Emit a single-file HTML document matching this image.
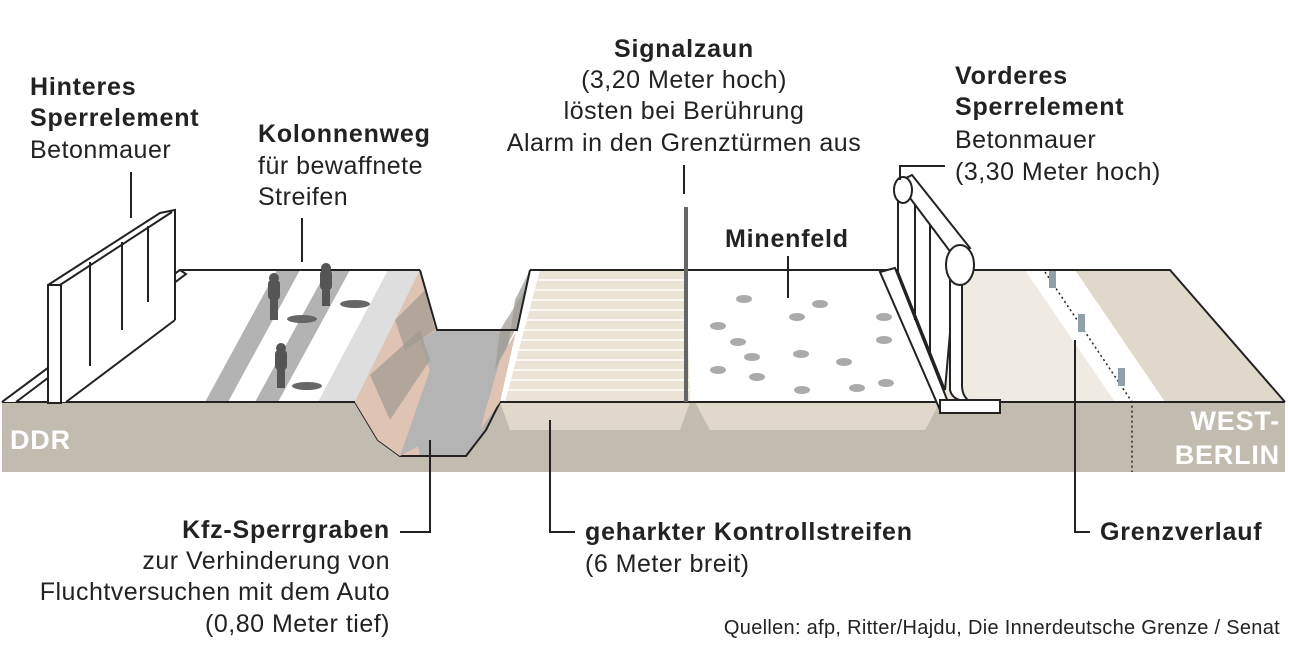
<!DOCTYPE html>
<html><head><meta charset="utf-8"><style>
html,body{margin:0;padding:0;background:#fff}
svg{display:block}
text{font-family:"Liberation Sans","DejaVu Sans",sans-serif;fill:#222;font-size:25px;letter-spacing:0.5px}
.b{font-weight:bold;font-size:25px;letter-spacing:0.8px}
</style></head><body>
<svg width="1292" height="656" viewBox="0 0 1292 656" xmlns="http://www.w3.org/2000/svg">
<rect x="2" y="402" width="1283" height="70" fill="#c2bcb0"/>
<path d="M355,402 L378,440 L400,456 L466,456 L486,430 L500,402 Z" fill="#b4b4b4"/>
<path d="M355,402 L378,440 L400,456 L420,456 L410,402 Z" fill="#dfc3b3"/>
<path d="M355,402 L378,440 L400,456 L466,456 L486,430 L500,402" fill="none" stroke="#222" stroke-width="2"/>
<path d="M500,402 L690,402 L680,430 L510,430 Z" fill="#e0d9cb"/>
<path d="M695,402 L940,402 L925,430 L710,430 Z" fill="#e0d9cb"/>
<path d="M2,402 L180,270 L420,270 L437,330 L517,330 L530,270 L1170,270 L1285,402 Z" fill="#fff"/>
<path d="M205,402 L277,270 L300,270 L228,402 Z" fill="#b3b3b3"/>
<path d="M255,402 L327,270 L350,270 L278,402 Z" fill="#b3b3b3"/>
<path d="M318,402 L388,270 L420,270 L400,330 L355,402 Z" fill="#dedede"/>
<path d="M420,270 L437,330 L517,330 L530,270 L515,300 L500,402 L400,456 L378,440 L355,402 Z" fill="#b4b4b4"/>
<path d="M420,270 L437,330 L420,340 L430,370 L400,456 L378,440 L355,402 Z" fill="#dfc3b3"/>
<path d="M370,375 L420,330 L430,360 L390,420 Z" fill="#9e9a90" opacity=".7"/>
<path d="M395,320 L425,290 L435,330 L405,350 Z" fill="#9e9a90" opacity=".7"/>
<path d="M530,270 L517,330 L500,360 L480,430 L500,402 Z" fill="#dfc3b3"/>
<path d="M525,290 L500,330 L495,370 L515,330 Z" fill="#9e9a90" opacity=".7"/>
<path d="M420,270 L437,330 L517,330 L530,270" fill="none" stroke="#222" stroke-width="2"/>
<path d="M540,270 L686,270 L690,402 L505,402 Z" fill="#ebe4d6"/>
<g stroke="#fff" stroke-width="1.5">
<line x1="538" y1="280" x2="686" y2="280"/><line x1="535" y1="290" x2="686" y2="290"/>
<line x1="532" y1="300" x2="686" y2="300"/><line x1="529" y1="310" x2="686" y2="310"/>
<line x1="526" y1="320" x2="687" y2="320"/><line x1="523" y1="330" x2="687" y2="330"/>
<line x1="520" y1="340" x2="687" y2="340"/><line x1="517" y1="350" x2="688" y2="350"/>
<line x1="514" y1="360" x2="688" y2="360"/><line x1="511" y1="370" x2="688" y2="370"/>
<line x1="508" y1="380" x2="689" y2="380"/><line x1="506" y1="390" x2="689" y2="390"/>
</g>
<path d="M965,270 L1025,270 L1115,402 L940,402 Z" fill="#efebe3"/>
<path d="M1075,270 L1170,270 L1285,402 L1165,402 Z" fill="#e0d9cb"/>
<path d="M1045,272 L1132,402 L1132,472" fill="none" stroke="#222" stroke-width="1.5" stroke-dasharray="2,3"/>
<rect x="1049" y="270" width="7" height="18" fill="#8fa0a8"/>
<rect x="1078" y="314" width="7" height="18" fill="#8fa0a8"/>
<rect x="1118" y="368" width="7" height="18" fill="#8fa0a8"/>
<path d="M2,402 L180,270 L420,270 M530,270 L1170,270 L1285,402" fill="none" stroke="#222" stroke-width="2"/>
<line x1="2" y1="402" x2="355" y2="402" stroke="#222" stroke-width="2"/>
<line x1="500" y1="402" x2="1285" y2="402" stroke="#222" stroke-width="2"/>
<g fill="#aaa">
<ellipse cx="744" cy="299" rx="8" ry="4"/><ellipse cx="820" cy="304" rx="8" ry="4"/>
<ellipse cx="797" cy="317" rx="8" ry="4"/><ellipse cx="884" cy="317" rx="8" ry="4"/>
<ellipse cx="718" cy="326" rx="8" ry="4"/><ellipse cx="738" cy="342" rx="8" ry="4"/>
<ellipse cx="884" cy="340" rx="8" ry="4"/><ellipse cx="752" cy="357" rx="8" ry="4"/>
<ellipse cx="801" cy="354" rx="8" ry="4"/><ellipse cx="844" cy="362" rx="8" ry="4"/>
<ellipse cx="718" cy="370" rx="8" ry="4"/><ellipse cx="757" cy="377" rx="8" ry="4"/>
<ellipse cx="802" cy="390" rx="8" ry="4"/><ellipse cx="857" cy="388" rx="8" ry="4"/>
<ellipse cx="886" cy="383" rx="8" ry="4"/>
</g>
<g fill="#555">
<rect x="268" y="280" width="12" height="20" rx="4"/><circle cx="274" cy="278" r="5"/><rect x="270" y="298" width="8" height="22"/>
<rect x="320" y="270" width="12" height="20" rx="4"/><circle cx="326" cy="268" r="5"/><rect x="322" y="288" width="8" height="18"/>
<rect x="275" y="350" width="12" height="20" rx="4"/><circle cx="281" cy="348" r="5"/><rect x="277" y="368" width="8" height="20"/>
<ellipse cx="302" cy="319" rx="15" ry="4" fill="#666"/><ellipse cx="355" cy="304" rx="15" ry="4" fill="#666"/><ellipse cx="307" cy="386" rx="15" ry="4" fill="#666"/>
</g>
<path d="M2,402 L180,270 L186,274 L16,402" fill="#fff" stroke="#222" stroke-width="2"/>
<path d="M48,285 L48,402 L66,402 L175,320 L175,210 L160,218 Z" fill="#fff"/>
<path d="M48,285 L160,213 L175,210 L175,320 M60,285 L60,402" fill="none" stroke="#222" stroke-width="2"/>
<rect x="48" y="285" width="13" height="118" fill="#fff" stroke="#222" stroke-width="2"/>
<path d="M60,285 L172,212" stroke="#222" stroke-width="2"/>
<path d="M66,402 L175,320" stroke="#222" stroke-width="2"/>
<g stroke="#222" stroke-width="2"><line x1="90" y1="262" x2="90" y2="366"/><line x1="122" y1="242" x2="122" y2="330"/><line x1="148" y1="226" x2="148" y2="302"/></g>
<rect x="684" y="207" width="4" height="195" fill="#666"/>
<path d="M880,272 L895,268 L948,402 L940,410 Z" fill="#fff" stroke="#222" stroke-width="2"/>
<path d="M898,190 L898,272 L945,390 L955,275 L960,250 L910,182 Z" fill="#fff" stroke="#222" stroke-width="2"/>
<g stroke="#222" stroke-width="2"><line x1="915" y1="205" x2="915" y2="320"/><line x1="930" y1="225" x2="930" y2="355"/></g>
<path d="M898,182 L955,258 L970,248 L912,175 Z" fill="#fff" stroke="#222" stroke-width="2"/>
<ellipse cx="903" cy="190" rx="9" ry="13" fill="#fff" stroke="#222" stroke-width="2"/>
<path d="M950,280 L950,390 Q952,398 960,400 L968,400 Q962,395 962,385 L962,280 Z" fill="#fff" stroke="#222" stroke-width="2"/>
<ellipse cx="960" cy="265" rx="14" ry="20" fill="#fff" stroke="#222" stroke-width="2"/>
<rect x="940" y="400" width="60" height="13" fill="#fff" stroke="#222" stroke-width="2"/>
<g stroke="#222" stroke-width="2" fill="none">
<line x1="131" y1="172" x2="131" y2="218"/>
<line x1="302" y1="218" x2="302" y2="262"/>
<line x1="684" y1="165" x2="684" y2="194"/>
<path d="M900,180 L900,166 L945,166"/>
<line x1="788" y1="256" x2="788" y2="298"/>
<path d="M430,440 L430,532 L400,532"/>
<path d="M550,420 L550,532 L575,532"/>
<path d="M1075,340 L1075,532 L1090,532"/>
</g>
<text x="30" y="95" class="b">Hinteres</text>
<text x="30" y="126" class="b">Sperrelement</text>
<text x="30" y="158">Betonmauer</text>
<text x="258" y="142" class="b">Kolonnenweg</text>
<text x="258" y="174">für bewaffnete</text>
<text x="258" y="205">Streifen</text>
<g text-anchor="middle">
<text x="684" y="57" class="b">Signalzaun</text>
<text x="684" y="88">(3,20 Meter hoch)</text>
<text x="684" y="119">lösten bei Berührung</text>
<text x="684" y="151">Alarm in den Grenztürmen aus</text>
</g>
<text x="955" y="84" class="b">Vorderes</text>
<text x="955" y="115" class="b">Sperrelement</text>
<text x="955" y="148">Betonmauer</text>
<text x="955" y="180">(3,30 Meter hoch)</text>
<text x="725" y="247" class="b">Minenfeld</text>
<text x="10" y="449" class="b" style="fill:#fff;font-size:27px">DDR</text>
<text x="1280" y="430" text-anchor="end" class="b" style="fill:#fff;font-size:27px">WEST-</text>
<text x="1280" y="464" text-anchor="end" class="b" style="fill:#fff;font-size:27px">BERLIN</text>
<g text-anchor="end">
<text x="390" y="538" class="b">Kfz-Sperrgraben</text>
<text x="390" y="569">zur Verhinderung von</text>
<text x="390" y="600">Fluchtversuchen mit dem Auto</text>
<text x="390" y="632">(0,80 Meter tief)</text>
</g>
<text x="585" y="540" class="b">geharkter Kontrollstreifen</text>
<text x="585" y="572">(6 Meter breit)</text>
<text x="1100" y="540" class="b">Grenzverlauf</text>
<text x="1280" y="634" text-anchor="end" style="font-size:20px;letter-spacing:0.3px">Quellen: afp, Ritter/Hajdu, Die Innerdeutsche Grenze / Senat</text>
</svg>
</body></html>
